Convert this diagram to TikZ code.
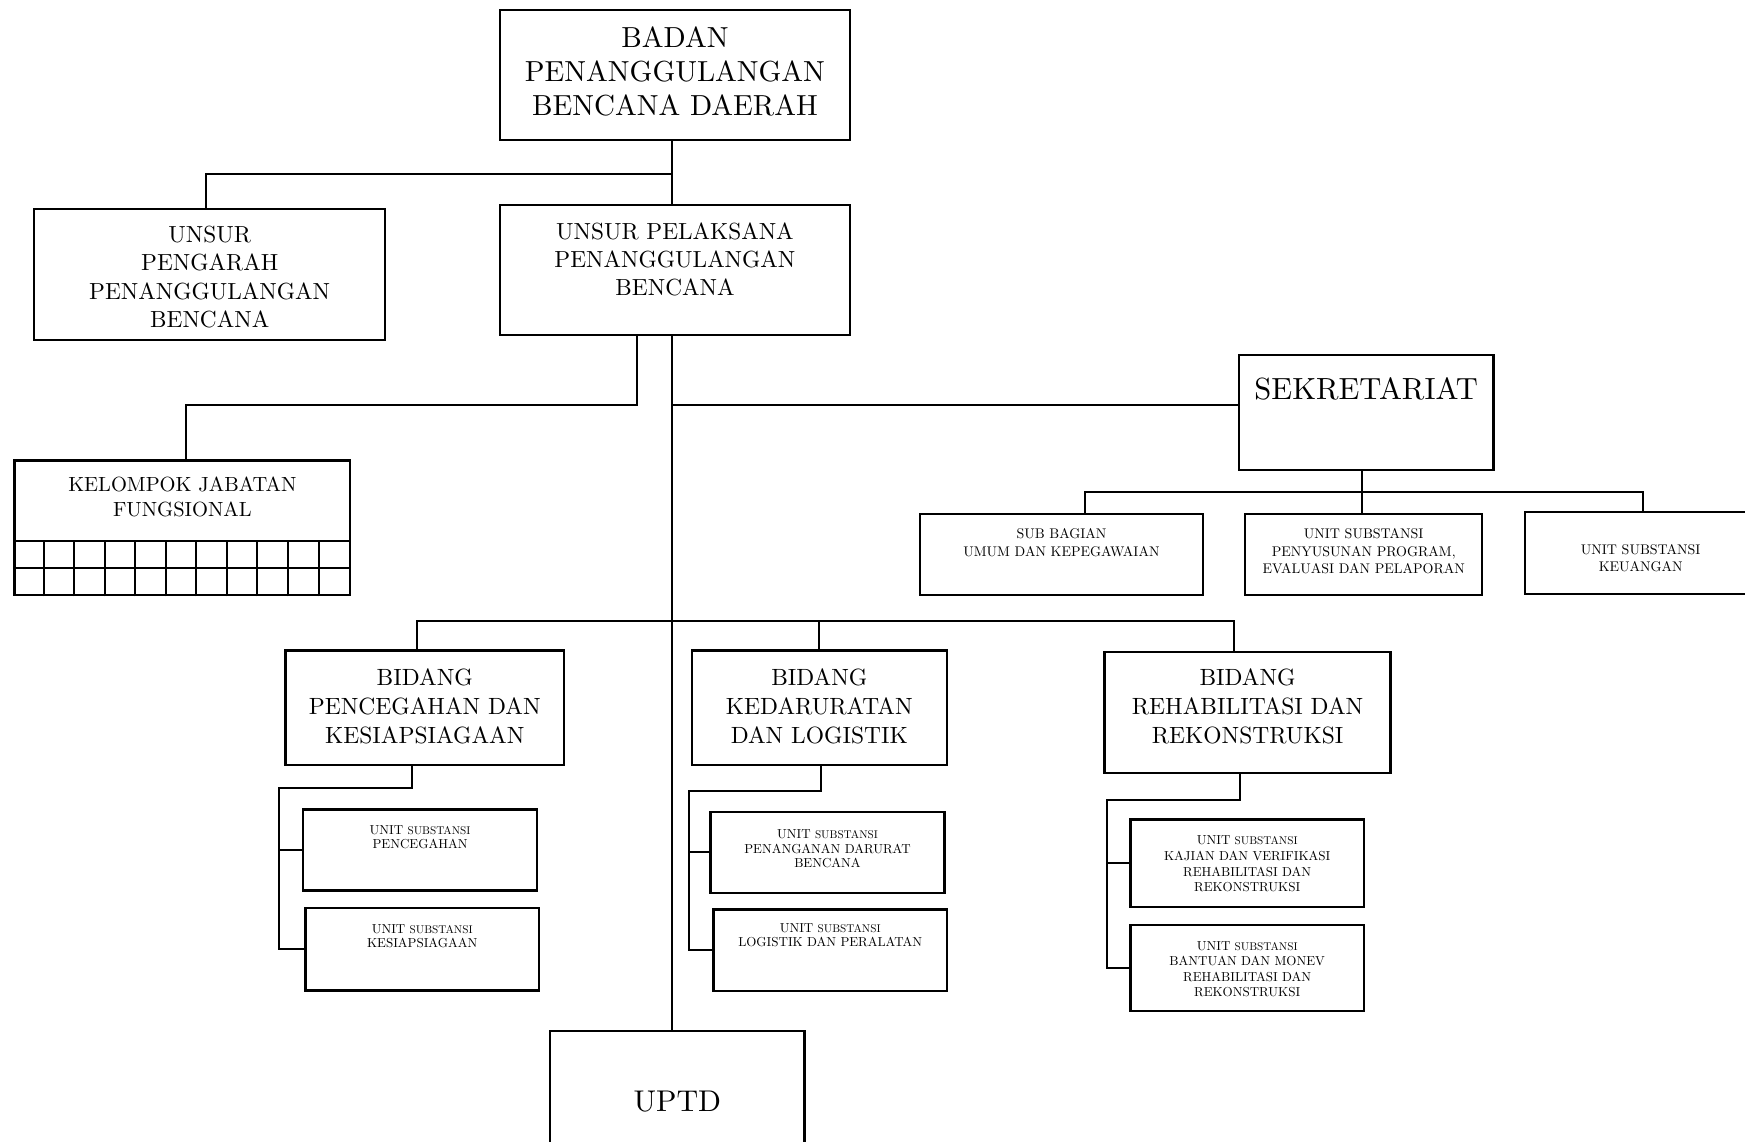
\documentclass[tikz,border=0pt]{standalone}
\usepackage{fontspec}
\setmainfont{lmroman10-regular.otf}[BoldFont=lmroman10-bold.otf]
\usetikzlibrary{calc}

\newcommand{\boxtxt}[4]{\parbox[c][#2][t]{#1}{\centering\vspace*{#3}#4\par}}
\newcommand{\subst}{\scalebox{0.86}{SUBSTANSI}}

\begin{document}
\begin{tikzpicture}[x=1pt, y=-1pt, line width=2pt,
    box/.style={draw, line width=2.4pt, inner sep=0pt, anchor=north west},
    huge/.style={font=\fontsize{29}{33.6}\selectfont},
    head/.style={font=\fontsize{23.3}{28.2}\selectfont},
    bid/.style={font=\fontsize{23.5}{29}\selectfont},
    sub/.style={font=\fontsize{14}{17.6}\selectfont},
    unit/.style={font=\fontsize{13}{14.5}\selectfont},
    unitr/.style={font=\fontsize{13}{15.6}\selectfont}]
		\useasboundingbox (0,0) rectangle (1745,1142);
		% top
		\node[box, huge] (badan) at (498.5,9) {\boxtxt{350.5pt}{130pt}{17pt}{BADAN\\PENANGGULANGAN\\BENCANA DAERAH}};
		\node[box, head] (pengarah) at (33,208) {\boxtxt{351pt}{131pt}{17pt}{UNSUR\\PENGARAH\\PENANGGULANGAN\\BENCANA}};
		\node[box, head] (pelaksana) at (498.5,204) {\boxtxt{350.5pt}{130pt}{17.7pt}{UNSUR PELAKSANA\\PENANGGULANGAN\\BENCANA}};
		\node[box, font=\fontsize{30.6}{36}\selectfont] (sekretariat) at (1237.7,354) {\boxtxt{254.7pt}{115pt}{22.5pt}{SEKRETARIAT}};
		\node[box, font=\fontsize{20.5}{25}\selectfont] (kelompok) at (13.3,459.3) {\boxtxt{335.7pt}{134.7pt}{16.7pt}{KELOMPOK JABATAN\\FUNGSIONAL}};
		% sekretariat
		\node[box, sub] (subbagian) at (918.5,512.7) {\boxtxt{283.5pt}{81.3pt}{14.5pt}{SUB BAGIAN\\UMUM DAN KEPEGAWAIAN}};
		\node[box, sub] (penyusunan) at (1244,512.7) {\boxtxt{237pt}{81.3pt}{14.5pt}{UNIT SUBSTANSI\\PENYUSUNAN PROGRAM,\\EVALUASI DAN PELAPORAN}};
		\node[box, sub] (keuangan) at (1523.5,511) {\boxtxt{232pt}{82pt}{31.8pt}{UNIT SUBSTANSI\\KEUANGAN}};
		% bidang
		\node[box, bid] (pencegahan) at (284.2,649.3) {\boxtxt{278.7pt}{114.7pt}{18.5pt}{BIDANG\\PENCEGAHAN DAN\\KESIAPSIAGAAN}};
		\node[box, bid] (kedaruratan) at (690.5,649.3) {\boxtxt{255.2pt}{114.7pt}{18.5pt}{BIDANG\\KEDARURATAN\\DAN LOGISTIK}};
		\node[box, bid] (rehab) at (1103.4,650.7) {\boxtxt{286pt}{121pt}{17pt}{BIDANG\\REHABILITASI DAN\\REKONSTRUKSI}};
		% unit substansi
		\node[box, unit] (unitcegah) at (301.7,808.3) {\boxtxt{234.3pt}{81pt}{16pt}{UNIT \subst\\PENCEGAHAN}};
		\node[box, unit] (unitsiaga) at (304.3,906.7) {\boxtxt{233.4pt}{82.6pt}{16.6pt}{UNIT \subst\\KESIAPSIAGAAN}};
		\node[box, unit] (unitdarurat) at (709.3,810.7) {\boxtxt{234pt}{81pt}{18pt}{UNIT \subst\\PENANGANAN DARURAT\\BENCANA}};
		\node[box, unit] (unitlogistik) at (712.3,908.3) {\boxtxt{233.4pt}{81.7pt}{14pt}{UNIT \subst\\LOGISTIK DAN PERALATAN}};
		\node[box, unitr] (unitkajian) at (1129.3,818.3) {\boxtxt{233.4pt}{87.7pt}{16.6pt}{UNIT \subst\\KAJIAN DAN VERIFIKASI\\REHABILITASI DAN\\REKONSTRUKSI}};
		\node[box, unitr] (unitbantuan) at (1129.3,924) {\boxtxt{233.4pt}{86pt}{16pt}{UNIT \subst\\BANTUAN DAN MONEV\\REHABILITASI DAN\\REKONSTRUKSI}};
		\node[box, font=\fontsize{30}{36}\selectfont] (uptd) at (549,1030) {\boxtxt{254.3pt}{130pt}{59.8pt}{UPTD}};

		% kelompok grid
		\foreach \i in {1,...,10}
			\draw ([xshift=\i*30.52pt]kelompok.south west) -- ++(0,-55.7);
		\draw ([yshift=55.7pt]kelompok.south west) -- ([yshift=55.7pt]kelompok.south east);
		\draw ([yshift=28pt]kelompok.south west) -- ([yshift=28pt]kelompok.south east);

		% joints
		\coordinate (j1) at (671.7,174);
		\coordinate (j2) at (636.7,405);
		\coordinate (j3) at (1362,492.3);
		\coordinate (j4) at (671.7,621);
		\coordinate (c1) at (279.3,788.3);
		\coordinate (c2) at (689,790.7);
		\coordinate (c3) at (1107,800.3);

		% lines
		\draw (j1 |- badan.south) -- (j1 |- pelaksana.north);
		\draw (j1) -| ([xshift=-4pt]pengarah.north);
		\draw (j4 |- pelaksana.south) -- (j4 |- uptd.north);
		\draw (j2 |- pelaksana.south) -- (j2) -| ([xshift=4pt]kelompok.north);
		\draw (j4 |- j2) -- (sekretariat.west |- j2);
		\draw (j3 |- sekretariat.south) -- (j3 |- penyusunan.north);
		\draw ([xshift=24pt]subbagian.north) |- (j3) -| ([xshift=2pt]keuangan.north);
		\draw ([xshift=-8pt]pencegahan.north) |- ([xshift=-14pt]rehab.north |- j4) -- ([xshift=-14pt]rehab.north);
		\draw (kedaruratan.north |- j4) -- (kedaruratan.north);

		\draw ([xshift=-13pt]pencegahan.south) |- (c1) |- (unitsiaga.west);
		\draw (c1 |- unitcegah.west) -- (unitcegah.west);
		\draw ([xshift=1.5pt]kedaruratan.south) |- (c2) |- (unitlogistik.west);
		\draw (c2 |- unitdarurat.west) -- (unitdarurat.west);
		\draw ([xshift=-7.4pt]rehab.south) |- (c3) |- (unitbantuan.west);
		\draw (c3 |- unitkajian.west) -- (unitkajian.west);
\end{tikzpicture}
\end{document}
